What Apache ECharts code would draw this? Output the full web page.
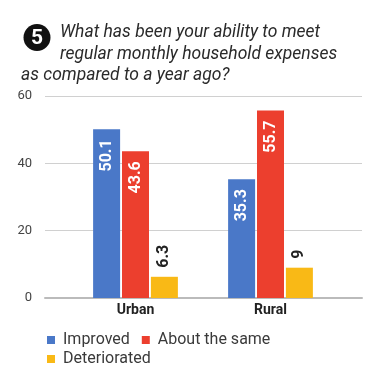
<!DOCTYPE html>
<html>
<head>
<meta charset="utf-8">
<script src="https://cdn.jsdelivr.net/npm/echarts@6/dist/echarts.min.js"></script>
<style>html,body{margin:0;padding:0;background:#fff;}#c{width:391px;height:373px;}</style>
</head>
<body>
<div id="c"></div>
<script>
const categories = ['Urban', 'Rural'];
const improved = [50.1, 35.3];
const aboutSame = [43.6, 55.7];
const deteriorated = [6.3, 9];
const yTicks = [0, 20, 40, 60];
const titleLines = ['What has been your ability to meet', 'regular monthly household expenses', 'as compared to a year ago?'];

const chart = echarts.init(document.getElementById('c'));
const FONT = 'Roboto, "Noto Sans", sans-serif';
const whiteLabel = {
  show: true, position: 'insideTop', rotate: 90, align: 'right', verticalAlign: 'middle',
  distance: 10, color: '#fff', fontSize: 16, fontWeight: 'bold', fontFamily: FONT
};
const darkLabel = {
  show: true, position: 'top', rotate: 90, align: 'left', verticalAlign: 'middle',
  distance: 9, color: '#222', fontSize: 16, fontWeight: 'bold', fontFamily: FONT
};
const legendText = { fontSize: 16, color: '#3a3a3a', fontFamily: FONT, padding: [0, 0, 0, 3] };

chart.setOption({
  animation: false,
  graphic: [
    { type: 'circle', shape: { cx: 37, cy: 37.5, r: 13.5 }, style: { fill: '#111' } },
    { type: 'text', x: 37, y: 38.5, style: { text: '5', fill: '#fff', font: 'bold 21px ' + FONT, align: 'center', verticalAlign: 'middle' } },
    { type: 'text', x: 60, y: 33, style: { text: titleLines[0], fill: '#2a2a2a', font: 'italic 17.5px ' + FONT, verticalAlign: 'middle' } },
    { type: 'text', x: 60, y: 55, style: { text: titleLines[1], fill: '#2a2a2a', font: 'italic 17.5px ' + FONT, verticalAlign: 'middle' } },
    { type: 'text', x: 21, y: 76, style: { text: titleLines[2], fill: '#2a2a2a', font: 'italic 17.5px ' + FONT, verticalAlign: 'middle' } }
  ],
  legend: [
    { data: ['Improved', 'About the same'], left: 42, top: 327, icon: 'rect', itemWidth: 8, itemHeight: 8, itemGap: 12, textStyle: legendText, selectedMode: false },
    { data: ['Deteriorated'], left: 42, top: 346, icon: 'rect', itemWidth: 8, itemHeight: 8, itemGap: 12, textStyle: legendText, selectedMode: false }
  ],
  grid: [
    { left: 45, right: 29, top: 96, bottom: 75 },
    { left: 68, right: 53, top: 96, bottom: 75 }
  ],
  xAxis: [
    { gridIndex: 0, type: 'category', data: [''], axisLine: { show: true, lineStyle: { color: '#bbb', width: 2 } }, axisTick: { show: false }, axisLabel: { show: false } },
    { gridIndex: 1, type: 'category', data: categories, axisLine: { show: false }, axisTick: { show: false },
      axisLabel: { color: '#222', fontSize: 14, fontWeight: 'bold', fontFamily: FONT, margin: 5 } }
  ],
  yAxis: [
    { gridIndex: 0, type: 'value', min: yTicks[0], max: yTicks[yTicks.length - 1], interval: 20,
      axisLine: { show: false }, axisTick: { show: false },
      axisLabel: { color: '#444', fontSize: 13, fontFamily: FONT, margin: 13 },
      splitLine: { lineStyle: { color: '#d0d0d0', width: 1 } } },
    { gridIndex: 1, type: 'value', min: yTicks[0], max: yTicks[yTicks.length - 1], interval: 20,
      axisLine: { show: false }, axisTick: { show: false }, axisLabel: { show: false }, splitLine: { show: false } }
  ],
  series: [
    { name: 'Improved', type: 'bar', xAxisIndex: 1, yAxisIndex: 1, data: improved, barWidth: 27, barGap: '7%', itemStyle: { color: '#4a78c8' }, label: whiteLabel },
    { name: 'About the same', type: 'bar', xAxisIndex: 1, yAxisIndex: 1, data: aboutSame, barWidth: 27, barGap: '7%', itemStyle: { color: '#ec3f2e' }, label: whiteLabel },
    { name: 'Deteriorated', type: 'bar', xAxisIndex: 1, yAxisIndex: 1, data: deteriorated, barWidth: 27, barGap: '7%', itemStyle: { color: '#f9b916' }, label: darkLabel }
  ]
});
</script>
</body>
</html>
